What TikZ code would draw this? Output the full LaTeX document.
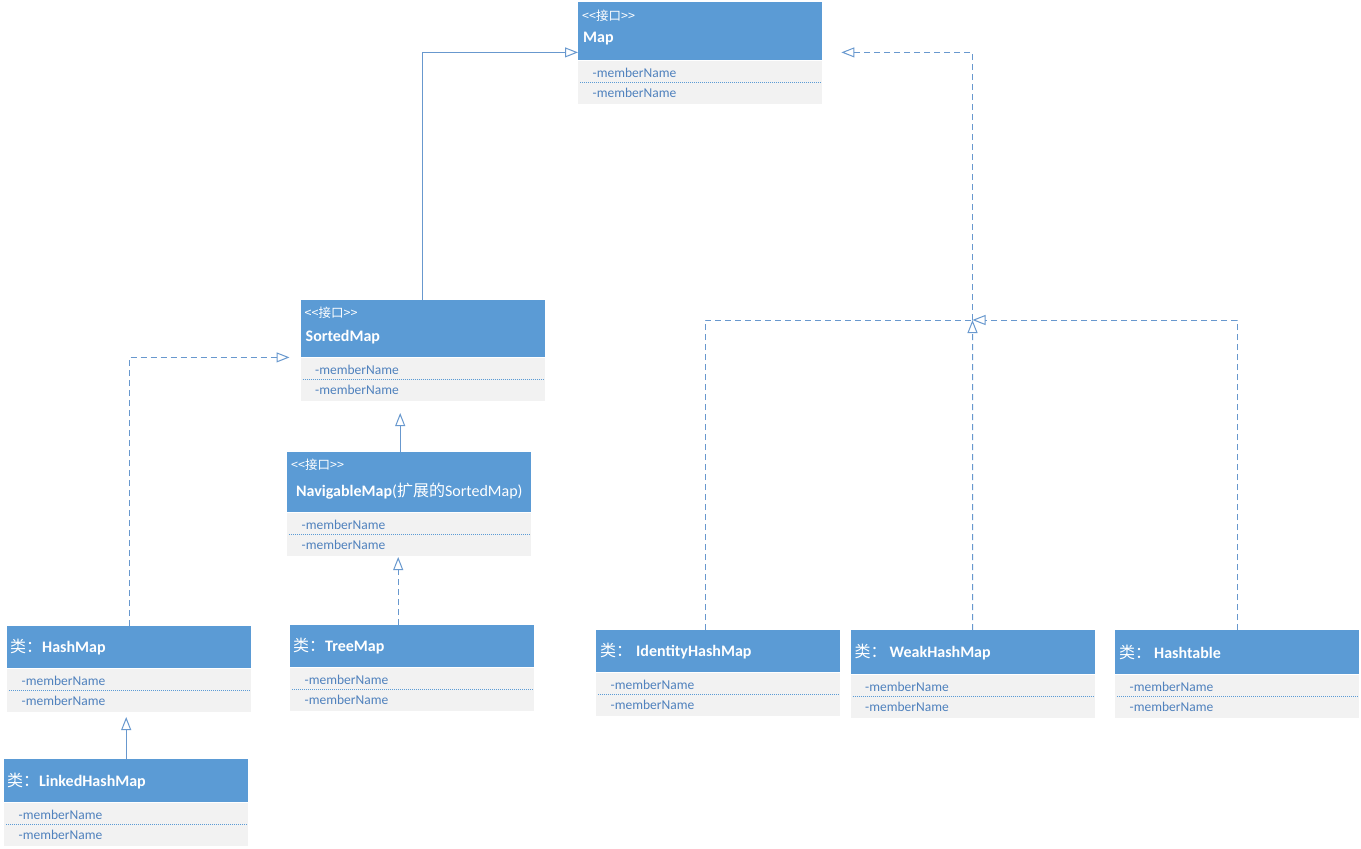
\documentclass[tikz,border=0pt]{standalone}
\usepackage{fontspec}
\setmainfont{Carlito}
\newfontfamily\cjk{Noto Sans CJK SC}
\usetikzlibrary{arrows.meta,positioning,calc}
\definecolor{headblue}{RGB}{91,155,213}
\definecolor{bodygray}{RGB}{242,242,242}
\definecolor{membertext}{RGB}{79,129,189}
\definecolor{linkblue}{RGB}{104,152,206}

\tikzset{
  head/.style={fill=headblue, minimum width=244, inner sep=0, anchor=north west},
  body/.style={fill=bodygray, minimum width=244, minimum height=43, inner sep=0},
  stereo/.style={anchor=west, inner sep=0, text=white, font=\cjk\fontsize{12.5}{14}\selectfont},
  title/.style={anchor=west, inner sep=0, text=white, font=\fontsize{16}{19}\selectfont},
  member/.style={anchor=west, inner sep=0, text=membertext, font=\fontsize{13.5}{16}\selectfont},
  sepline/.style={draw=headblue, line width=0.7pt, dash pattern=on 1pt off 1pt},
  link/.style={draw=linkblue, line width=1pt},
  hollow/.style={-{Triangle[open, length=13pt, width=10pt]}},
  inherit/.style={link, hollow},
  dashline/.style={link, dash pattern=on 6pt off 4pt},
  realize/.style={dashline, hollow}
}

% body of a class: grey part under the header, two members
\newcommand{\members}[1]{%
  \node[body, below=0pt of #1-head] (#1-body) {};
  \node[member] (#1-m1) at ($(#1-body.north west)+(14.5,12.5)$) {-memberName};
  \draw[sepline] ($(#1-body.north west)+(2,22)$) -- ($(#1-body.north east)+(-2,22)$);
  \node[member] (#1-m2) at ($(#1-body.north west)+(14.5,32.5)$) {-memberName};
}

\begin{document}
\begin{tikzpicture}[x=1pt,y=-1pt]
\useasboundingbox (0,0) rectangle (1361,849);

% interfaces
\node[head, minimum height=58] (map-head) at (578,2) {};
\node[stereo] (map-stereo) at ($(map-head.north west)+(4,14)$) {<<接口>>};
\node[title] (map-title) at ($(map-head.north west)+(5,37)$) {\textbf{Map}};
\members{map}

\node[head, minimum height=57] (sorted-head) at (300.5,300) {};
\node[stereo] (sorted-stereo) at ($(sorted-head.north west)+(4,13)$) {<<接口>>};
\node[title] (sorted-title) at ($(sorted-head.north west)+(5,37)$) {\textbf{SortedMap}};
\members{sorted}

\node[head, minimum height=60] (nav-head) at (287,452) {};
\node[stereo] (nav-stereo) at ($(nav-head.north west)+(4,13)$) {<<接口>>};
\node[title] (nav-title) at ($(nav-head.north west)+(9,39)$) {\textbf{NavigableMap}({\cjk 扩展的}SortedMap)};
\members{nav}

% classes
\node[head, minimum height=42] (hash-head) at (7,626) {};
\node[title] (hash-title) at ($(hash-head.west)+(3,0)$) {{\cjk 类：}\textbf{HashMap}};
\members{hash}

\node[head, minimum height=43] (linked-head) at (4,759) {};
\node[title] (linked-title) at ($(linked-head.west)+(3,0)$) {{\cjk 类：}\textbf{LinkedHashMap}};
\members{linked}

\node[head, minimum height=42] (tree-head) at (290,625) {};
\node[title] (tree-title) at ($(tree-head.west)+(3,0)$) {{\cjk 类：}\textbf{TreeMap}};
\members{tree}

\node[head, minimum height=42] (identity-head) at (596,630) {};
\node[title] (identity-title) at ($(identity-head.west)+(4,0)$) {{\cjk 类：}\hspace{4pt}\textbf{IdentityHashMap}};
\members{identity}

\node[head, minimum height=44] (weak-head) at (850.5,630) {};
\node[title] (weak-title) at ($(weak-head.west)+(4,0)$) {{\cjk 类：}\hspace{3pt}\textbf{WeakHashMap}};
\members{weak}

\node[head, minimum height=44] (hashtable-head) at (1115,630) {};
\node[title] (hashtable-title) at ($(hashtable-head.west)+(4,0)$) {{\cjk 类：}\hspace{3pt}\textbf{Hashtable}};
\members{hashtable}

% connectors
\draw[inherit] (sorted-head.north) |- ($(map-head.south west)+(0,-8)$);
\draw[inherit] ($(nav-head.north)+(-9,0)$) -- ++(0,-39);
\draw[inherit] (linked-head.north) -- ++(0,-42);
\draw[realize] (hash-head.north) |- ($(sorted-head.south west)+(-11,0)$);
\draw[realize] ($(tree-head.north)+(-14,0)$) -- ++(0,-68);

\coordinate (join) at (972.5,320);
\draw[realize] (weak-head.north) -- (join);
\draw[realize] (hashtable-head.north) |- (join);
\draw[dashline] ($(identity-head.north)+(-13,0)$) |- (join);
\draw[realize] (join) |- ($(map-head.south east)+(19,-8)$);
\end{tikzpicture}
\end{document}
